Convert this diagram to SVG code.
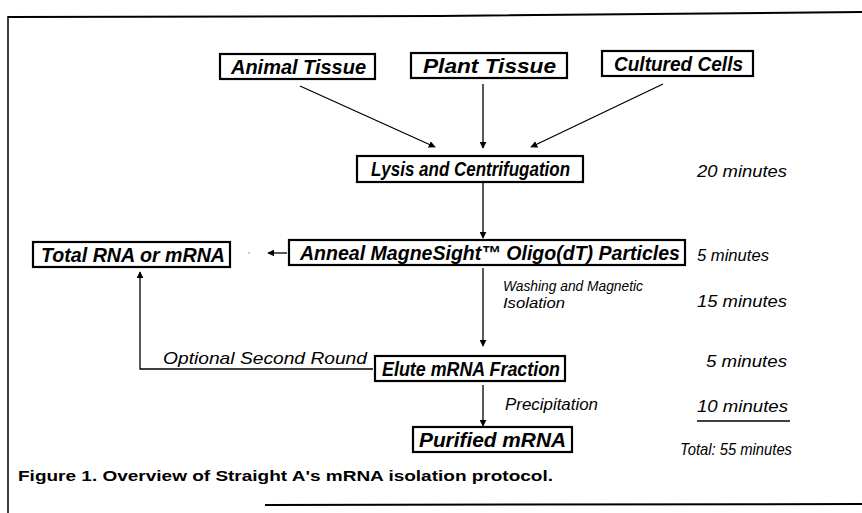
<svg xmlns="http://www.w3.org/2000/svg" width="862" height="513" viewBox="0 0 862 513">
<style>
.box{fill:#fff;stroke:#000;stroke-width:2.2}
.bl{font-family:"Liberation Sans",Arial,sans-serif;font-weight:bold;font-style:italic;font-size:20px;fill:#000}
.it{font-family:"Liberation Sans",Arial,sans-serif;font-style:italic;font-size:17px;fill:#000}
.sm{font-size:15px}
.cap{font-family:"Liberation Sans",Arial,sans-serif;font-weight:bold;font-size:15px;fill:#000}
.ln{stroke:#000;stroke-width:1.3;fill:none}
</style>
<defs>
<marker id="ah" viewBox="0 0 10 10" refX="9" refY="5" markerWidth="7" markerHeight="7" markerUnits="userSpaceOnUse" orient="auto">
<path d="M0,0 L10,5 L0,10 z" fill="#000"/>
</marker>
</defs>
<rect width="862" height="513" fill="#fff"/>
<g id="frame" stroke="#000" fill="none">
<path d="M8,17 L440,16 L862,12" stroke-width="2"/>
<path d="M8,16 L8,513" stroke-width="1.5"/>
<path d="M265,505 L862,504" stroke-width="2"/>
</g>
<g id="connectors">
<line class="ln" x1="300" y1="86" x2="435" y2="147" marker-end="url(#ah)"/>
<line class="ln" x1="483" y1="84" x2="483" y2="148" marker-end="url(#ah)"/>
<line class="ln" x1="663" y1="84" x2="531" y2="147" marker-end="url(#ah)"/>
<line class="ln" x1="483" y1="183" x2="483" y2="238" marker-end="url(#ah)"/>
<line class="ln" x1="287" y1="253" x2="268" y2="253" marker-end="url(#ah)"/>
<circle cx="249" cy="253" r="0.8" fill="#888"/>
<line class="ln" x1="483" y1="268" x2="483" y2="346" marker-end="url(#ah)"/>
<polyline class="ln" points="373,369 140,369 140,272" marker-end="url(#ah)"/>
<line class="ln" x1="483" y1="385" x2="483" y2="426" marker-end="url(#ah)"/>
<line class="ln" x1="697" y1="421" x2="790" y2="421" stroke-width="1.5"/>
</g>
<g id="animal"><rect class="box" x="220" y="54" width="155" height="25"/><text class="bl" x="231" y="74" textLength="135" lengthAdjust="spacingAndGlyphs">Animal Tissue</text></g>
<g id="plant"><rect class="box" x="411" y="53" width="156" height="25"/><text class="bl" x="423" y="73" textLength="133" lengthAdjust="spacingAndGlyphs">Plant Tissue</text></g>
<g id="cultured"><rect class="box" x="602" y="51" width="151" height="25"/><text class="bl" x="614" y="71" textLength="129" lengthAdjust="spacingAndGlyphs">Cultured Cells</text></g>
<g id="lysis"><rect class="box" x="357" y="156" width="226" height="26"/><text class="bl" x="371" y="176" textLength="199" lengthAdjust="spacingAndGlyphs">Lysis and Centrifugation</text></g>
<g id="total"><rect class="box" x="33" y="242" width="197" height="25"/><text class="bl" x="41" y="262" textLength="184" lengthAdjust="spacingAndGlyphs">Total RNA or mRNA</text></g>
<g id="anneal"><rect class="box" x="289" y="240" width="396" height="25"/><text class="bl" x="300" y="260" font-size="18" textLength="380" lengthAdjust="spacingAndGlyphs">Anneal MagneSight™ Oligo(dT) Particles</text></g>
<g id="elute"><rect class="box" x="375" y="356" width="190" height="25"/><text class="bl" x="382" y="376" textLength="178" lengthAdjust="spacingAndGlyphs">Elute mRNA Fraction</text></g>
<g id="purified"><rect class="box" x="413" y="427" width="159" height="25"/><text class="bl" x="419" y="447" textLength="147" lengthAdjust="spacingAndGlyphs">Purified mRNA</text></g>
<g id="labels">
<text class="it sm" x="503" y="291" textLength="140" lengthAdjust="spacingAndGlyphs">Washing and Magnetic</text>
<text class="it sm" x="503" y="308" textLength="62" lengthAdjust="spacingAndGlyphs">Isolation</text>
<text class="it" x="163" y="364" textLength="204" lengthAdjust="spacingAndGlyphs">Optional Second Round</text>
<text class="it" x="505" y="410" textLength="93" lengthAdjust="spacingAndGlyphs">Precipitation</text>
</g>
<g id="times">
<text class="it" x="697" y="177" textLength="90" lengthAdjust="spacingAndGlyphs">20 minutes</text>
<text class="it" x="697" y="261" textLength="72" lengthAdjust="spacingAndGlyphs">5 minutes</text>
<text class="it" x="697" y="307" textLength="90" lengthAdjust="spacingAndGlyphs">15 minutes</text>
<text class="it" x="706" y="367" textLength="81" lengthAdjust="spacingAndGlyphs">5 minutes</text>
<text class="it" x="697" y="412" textLength="91" lengthAdjust="spacingAndGlyphs">10 minutes</text>
<text class="it" x="680" y="455" textLength="112" lengthAdjust="spacingAndGlyphs">Total: 55 minutes</text>
</g>
<g id="caption">
<text class="cap" x="18" y="481" textLength="535" lengthAdjust="spacingAndGlyphs">Figure 1.  Overview of Straight A's mRNA isolation protocol.</text>
</g>
</svg>
